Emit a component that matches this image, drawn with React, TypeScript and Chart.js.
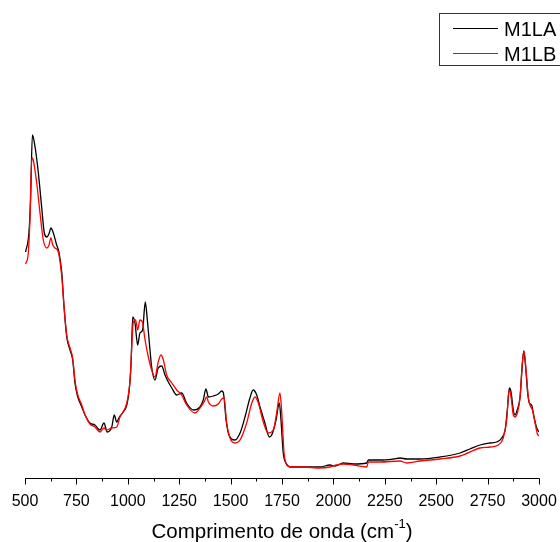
import React, { useEffect, useRef } from "react";
import { Chart, registerables } from "chart.js";

Chart.register(...registerables);

// Wavenumber (cm-1) and intensity (a.u.) for each sample
const m1laWn = [503, 519, 527, 536, 549, 565, 581, 594, 606, 618, 626, 638, 654, 665, 679, 690, 703, 719, 732, 743, 754, 776, 792, 816, 840, 865, 884, 900, 922, 934, 946, 959, 978, 995, 1007, 1016, 1024, 1035, 1048, 1059, 1072, 1085, 1095, 1108, 1116, 1132, 1148, 1165, 1181, 1197, 1214, 1238, 1262, 1286, 1319, 1351, 1367, 1380, 1392, 1416, 1440, 1457, 1465, 1478, 1489, 1505, 1521, 1546, 1570, 1594, 1610, 1627, 1643, 1667, 1688, 1700, 1721, 1737, 1745, 1756, 1769, 1789, 1854, 1935, 1983, 2008, 2048, 2097, 2162, 2170, 2227, 2291, 2324, 2357, 2421, 2518, 2616, 2664, 2713, 2762, 2794, 2819, 2835, 2846, 2856, 2864, 2875, 2883, 2894, 2908, 2917, 2926, 2935, 2945, 2953, 2964, 2976, 2989, 3000];
const m1laVal = [2.26, 2.45, 2.78, 3.43, 3.31, 3.05, 2.71, 2.45, 2.41, 2.45, 2.50, 2.45, 2.33, 2.26, 2.05, 1.71, 1.41, 1.28, 1.18, 0.95, 0.83, 0.71, 0.63, 0.55, 0.53, 0.48, 0.55, 0.46, 0.51, 0.63, 0.56, 0.61, 0.66, 0.73, 0.88, 1.15, 1.61, 1.55, 1.33, 1.45, 1.48, 1.76, 1.58, 1.28, 1.11, 0.98, 1.10, 1.12, 1.03, 0.96, 0.90, 0.83, 0.85, 0.75, 0.68, 0.71, 0.78, 0.89, 0.81, 0.82, 0.84, 0.87, 0.85, 0.58, 0.45, 0.39, 0.38, 0.45, 0.61, 0.80, 0.88, 0.83, 0.71, 0.55, 0.41, 0.43, 0.58, 0.75, 0.58, 0.25, 0.15, 0.11, 0.11, 0.11, 0.13, 0.12, 0.15, 0.14, 0.15, 0.18, 0.18, 0.19, 0.20, 0.19, 0.19, 0.21, 0.25, 0.29, 0.33, 0.35, 0.36, 0.40, 0.48, 0.68, 0.90, 0.86, 0.68, 0.63, 0.68, 0.81, 1.08, 1.27, 1.11, 0.85, 0.75, 0.73, 0.61, 0.50, 0.46];

const m1lbWn = [503, 516, 524, 533, 540, 557, 573, 589, 606, 617, 626, 635, 646, 662, 679, 690, 703, 719, 732, 743, 754, 776, 792, 816, 840, 865, 884, 897, 922, 946, 962, 995, 1011, 1027, 1038, 1048, 1059, 1071, 1084, 1100, 1116, 1132, 1148, 1161, 1173, 1189, 1214, 1238, 1262, 1286, 1327, 1351, 1371, 1384, 1392, 1416, 1440, 1457, 1468, 1481, 1497, 1521, 1546, 1578, 1603, 1619, 1635, 1659, 1683, 1708, 1724, 1740, 1748, 1760, 1773, 1797, 1852, 1935, 1983, 2016, 2048, 2097, 2162, 2170, 2227, 2324, 2357, 2421, 2518, 2616, 2713, 2762, 2802, 2826, 2843, 2854, 2864, 2875, 2883, 2896, 2908, 2919, 2927, 2937, 2948, 2956, 2968, 2981, 2992, 3000];
const m1lbVal = [2.14, 2.25, 2.58, 3.20, 3.18, 2.95, 2.65, 2.38, 2.30, 2.33, 2.40, 2.33, 2.30, 2.26, 2.01, 1.71, 1.43, 1.30, 1.20, 0.98, 0.85, 0.73, 0.63, 0.54, 0.51, 0.46, 0.50, 0.48, 0.50, 0.51, 0.61, 0.75, 0.98, 1.56, 1.58, 1.48, 1.58, 1.56, 1.38, 1.21, 1.08, 1.01, 1.16, 1.23, 1.18, 1.03, 0.95, 0.88, 0.83, 0.73, 0.65, 0.70, 0.76, 0.81, 0.76, 0.72, 0.74, 0.79, 0.80, 0.55, 0.40, 0.35, 0.38, 0.55, 0.75, 0.81, 0.75, 0.56, 0.45, 0.48, 0.65, 0.85, 0.68, 0.25, 0.14, 0.11, 0.11, 0.10, 0.11, 0.13, 0.14, 0.13, 0.11, 0.16, 0.16, 0.17, 0.15, 0.17, 0.19, 0.22, 0.30, 0.31, 0.33, 0.40, 0.58, 0.88, 0.81, 0.63, 0.61, 0.66, 0.81, 1.15, 1.27, 1.08, 0.81, 0.73, 0.68, 0.55, 0.44, 0.42];

const seriesNames = ["M1LA", "M1LB"];
const seriesColors = ["#000000", "#ff0000"];
const xTicks = [500, 750, 1000, 1250, 1500, 1750, 2000, 2250, 2500, 2750, 3000];
const xMinorTicks = [625, 875, 1125, 1375, 1625, 1875, 2125, 2375, 2625, 2875];
const axisTitle = "Comprimento de onda (cm";
const axisTitleSup = "-1";
const axisTitleEnd = ")";

const FONT = "'Liberation Sans', Arial, Helvetica, sans-serif";

const decorPlugin = {
  id: "decor",
  afterDraw(chart: any) {
    const ctx = chart.ctx as CanvasRenderingContext2D;
    const xs = chart.scales.x;
    const area = chart.chartArea;
    const yAxis = Math.round(area.bottom) + 0.5;
    ctx.save();
    // axis line
    ctx.strokeStyle = "#000";
    ctx.lineWidth = 1;
    ctx.beginPath();
    ctx.moveTo(xs.getPixelForValue(500), yAxis);
    ctx.lineTo(xs.getPixelForValue(3000) + 0.5, yAxis);
    ctx.stroke();
    // ticks
    ctx.beginPath();
    xTicks.forEach((t) => {
      const px = Math.round(xs.getPixelForValue(t)) + 0.5;
      ctx.moveTo(px, yAxis);
      ctx.lineTo(px, yAxis + 6);
    });
    xMinorTicks.forEach((t) => {
      const px = Math.round(xs.getPixelForValue(t)) + 0.5;
      ctx.moveTo(px, yAxis);
      ctx.lineTo(px, yAxis + 3);
    });
    ctx.stroke();
    // tick labels
    ctx.fillStyle = "#000";
    ctx.font = `16px ${FONT}`;
    ctx.textAlign = "center";
    ctx.textBaseline = "alphabetic";
    xTicks.forEach((t) => {
      ctx.fillText(String(t), xs.getPixelForValue(t), yAxis + 27);
    });
    // axis title with superscript
    const mainFont = `20.5px ${FONT}`;
    const supFont = `13px ${FONT}`;
    ctx.font = mainFont;
    const w1 = ctx.measureText(axisTitle).width;
    const w3 = ctx.measureText(axisTitleEnd).width;
    ctx.font = supFont;
    const w2 = ctx.measureText(axisTitleSup).width;
    const total = w1 + w2 + w3;
    let x0 = 282 - total / 2;
    const base = 538;
    ctx.textAlign = "left";
    ctx.font = mainFont;
    ctx.fillText(axisTitle, x0, base);
    x0 += w1;
    ctx.font = supFont;
    ctx.fillText(axisTitleSup, x0, base - 10);
    x0 += w2;
    ctx.font = mainFont;
    ctx.fillText(axisTitleEnd, x0, base);
    // legend
    ctx.strokeStyle = "#333";
    ctx.lineWidth = 1;
    ctx.strokeRect(439.5, 13.5, 140, 52);
    const rows = [28.5, 53.5];
    seriesNames.forEach((name, i) => {
      ctx.strokeStyle = seriesColors[i];
      ctx.beginPath();
      ctx.moveTo(453, rows[i]);
      ctx.lineTo(498, rows[i]);
      ctx.stroke();
      ctx.fillStyle = "#000";
      ctx.font = `20px ${FONT}`;
      ctx.fillText(name, 504, rows[i] + 7);
    });
    ctx.restore();
  },
};

export default function App() {
  const ref = useRef<HTMLCanvasElement | null>(null);
  useEffect(() => {
    if (!ref.current) return;
    const toPts = (xs: number[], ys: number[]) => xs.map((x, i) => ({ x, y: ys[i] }));
    const chart = new Chart(ref.current, {
      type: "line",
      data: {
        datasets: [
          {
            label: seriesNames[0],
            data: toPts(m1laWn, m1laVal),
            borderColor: seriesColors[0],
            borderWidth: 1.3,
            pointRadius: 0,
            cubicInterpolationMode: "monotone",
            order: 1,
          },
          {
            label: seriesNames[1],
            data: toPts(m1lbWn, m1lbVal),
            borderColor: seriesColors[1],
            borderWidth: 1.3,
            pointRadius: 0,
            cubicInterpolationMode: "monotone",
            order: 0,
          },
        ],
      },
      options: {
        animation: false,
        responsive: false,
        devicePixelRatio: 1,
        layout: { padding: { left: 25, right: 21, top: 0, bottom: 64 } },
        plugins: { legend: { display: false }, tooltip: { enabled: false } },
        scales: {
          x: { type: "linear", min: 500, max: 3000, display: false },
          y: { type: "linear", min: 0, max: 4.78, display: false },
        },
      },
      plugins: [decorPlugin],
    });
    return () => chart.destroy();
  }, []);
  return (
    <div style={{ position: "fixed", left: 0, top: 0, width: 560, height: 542, background: "#fff" }}>
      <canvas ref={ref} width={560} height={542} />
    </div>
  );
}
